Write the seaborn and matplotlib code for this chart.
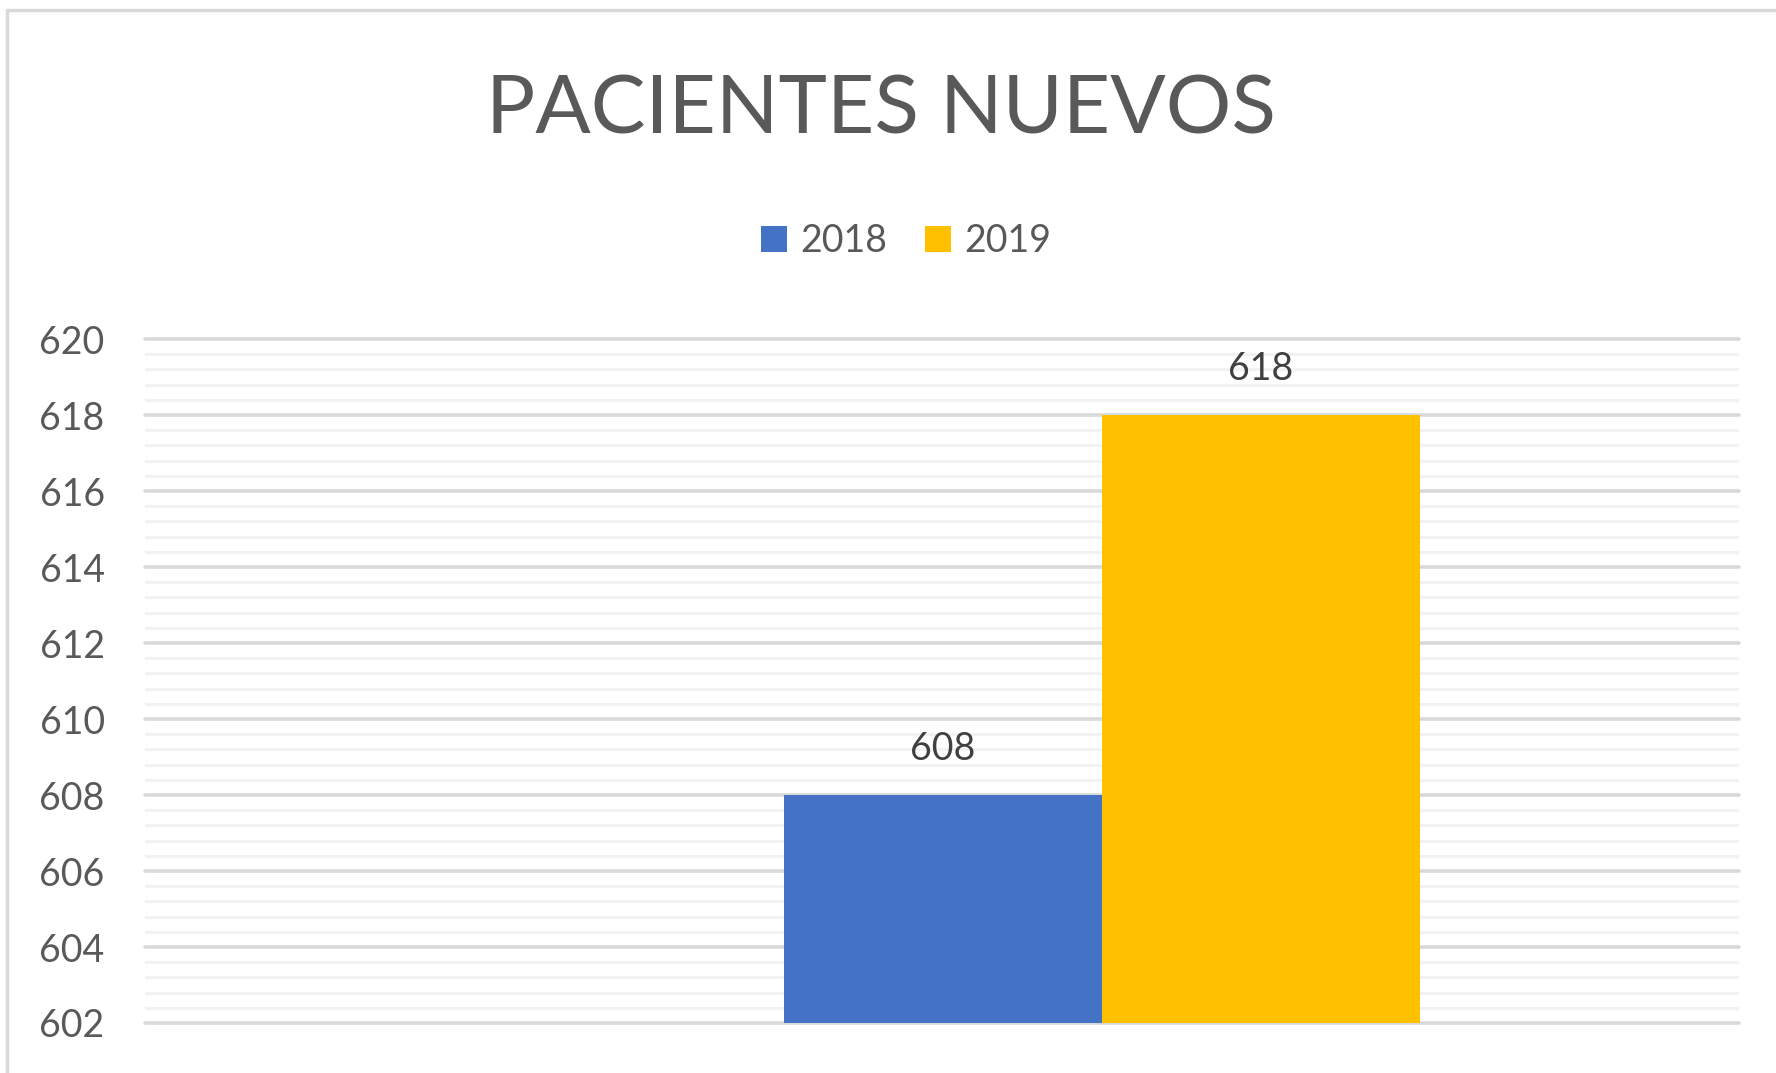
import matplotlib
matplotlib.use("Agg")
import matplotlib.pyplot as plt
import matplotlib.lines as mlines
from matplotlib.ticker import MultipleLocator
import pandas as pd
import seaborn as sns

# -------------------------
# Data
# -------------------------
categorias = ["Pacientes nuevos", "Pacientes nuevos"]
anios = ["2018", "2019"]
pacientes = [608, 618]
colores = ["#4472C4", "#FFC000"]
y_ticks = list(range(602, 621, 2))

df = pd.DataFrame({"categoria": categorias, "anio": anios, "pacientes": pacientes})

sns.set_theme(style="white")
plt.rcParams["font.family"] = ["Lato", "DejaVu Sans"]

fig = plt.figure(figsize=(17.76, 10.73), dpi=100)
ax = fig.add_axes([0.0816, 0.0466, 0.8975, 0.6374])

sns.barplot(
    data=df, x="categoria", y="pacientes", hue="anio",
    palette=colores, width=0.8, saturation=1, linewidth=0, ax=ax, legend=True
)

# -------------------------
# Axes
# -------------------------
ax.set_xlim(-1.204, 0.801)
ax.set_ylim(602, 620)
ax.set_yticks(y_ticks)
ax.yaxis.set_minor_locator(MultipleLocator(0.4))
ax.set_axisbelow(True)
ax.grid(axis="y", which="major", color="#D9D9D9", linewidth=2.6)
ax.grid(axis="y", which="minor", color="#F2F2F2", linewidth=2.2)
for ln in ax.get_ygridlines():
    ln.set_clip_on(False)
ax.tick_params(axis="y", which="both", length=0, labelsize=27, colors="#595959", pad=29)
ax.set_xticks([])
ax.set_xlabel("")
ax.set_ylabel("")
for s in ax.spines.values():
    s.set_visible(False)

for cont in ax.containers:
    ax.bar_label(cont, fmt="%d", padding=20, fontsize=27, color="#404040")

# -------------------------
# Legend and title
# -------------------------
handles, labels = ax.get_legend_handles_labels()
ax.get_legend().remove()
fig.legend(
    handles, labels, loc="center", bbox_to_anchor=(0.51, 0.775), ncol=2,
    frameon=False, fontsize=27, labelcolor="#595959",
    handlelength=0.7, handleheight=0.7, handletextpad=0.35, columnspacing=1.0
)

fig.text(0.496, 0.897, "PACIENTES NUEVOS", ha="center", va="center",
         fontsize=59, color="#595959")

# chart border (left and top edges visible)
fig.add_artist(mlines.Line2D([0.0037, 0.0037], [0, 0.991], color="#D9D9D9", linewidth=2.5))
fig.add_artist(mlines.Line2D([0.0037, 1.0], [0.991, 0.991], color="#D9D9D9", linewidth=2.5))

fig.savefig("out.png", dpi=100)
plt.close(fig)
